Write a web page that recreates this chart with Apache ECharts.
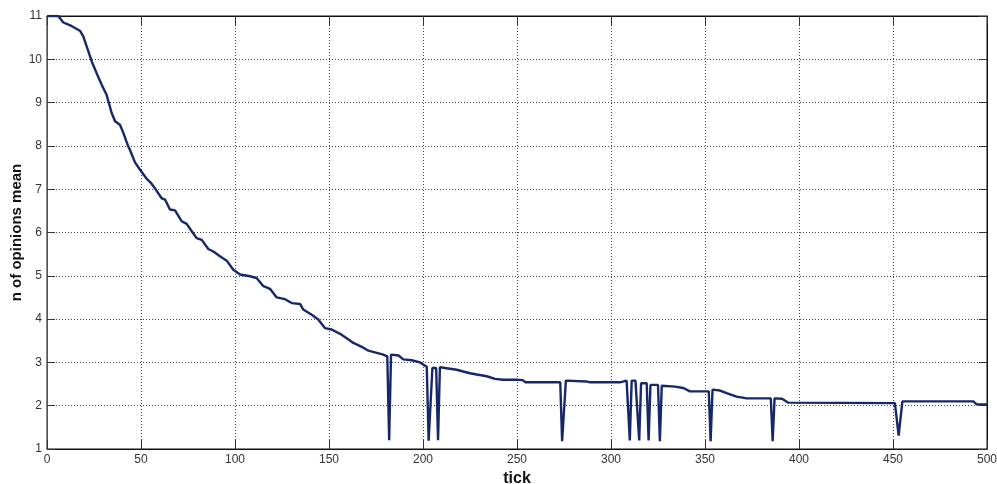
<!DOCTYPE html>
<html>
<head>
<meta charset="utf-8">
<script src="https://cdn.jsdelivr.net/npm/echarts@6/dist/echarts.min.js"></script>
<style>
html,body{margin:0;padding:0;background:#fff;}
#chart{width:997px;height:484px;}
</style>
</head>
<body>
<div id="chart"></div>
<script>
// x positions (tick) of the read points
const ticks = [
  0, 6, 8.7, 13, 17.5, 19.3, 21.1, 23.8, 26.4, 29.1, 31.7, 34.4, 36.2, 38.8, 40.6, 43.2, 44.1, 46.8, 49.5,
  53, 55, 57.4, 61, 62.8, 65.4, 68.1, 71.6, 74.3, 77, 79.6, 82.3, 85.8, 88.5, 92, 95.6, 99.1,
  102.7, 108, 111.5, 115.1, 118.6, 122.2, 126.6, 130.2, 134.6, 136.3, 140.8, 144.3, 147.9,
  151.4, 155.9, 159.4, 163, 167.4, 171, 175.4, 178.9, 181, 182, 183, 187, 189.5, 194, 198.4,
  202, 203, 204, 205, 207, 208, 209, 211.7, 217.9, 221.4, 225, 228.6, 233.9, 238.3, 242.7,
  249.8, 253, 254.5, 273, 274, 275, 276, 287, 288.8, 304.8, 308.3, 309, 310, 311, 313,
  314, 315, 316, 319, 320, 321, 325, 326, 327, 334, 338.5, 342, 352, 353, 354, 358,
  361.5, 366.8, 372.2, 385, 386, 387, 391, 394.3, 451, 452, 453, 454, 455, 492.7, 494.5, 500
];
// n of opinions mean at those ticks
const meanValues = [
  11, 11, 10.85, 10.77, 10.66, 10.53, 10.3, 9.95, 9.68, 9.41, 9.18, 8.76, 8.57, 8.49, 8.30, 7.99, 7.91, 7.62, 7.45,
  7.24, 7.16, 7.02, 6.79, 6.76, 6.53, 6.51, 6.26, 6.20, 6.03, 5.87, 5.83, 5.62, 5.56, 5.45, 5.35, 5.14,
  5.03, 4.99, 4.95, 4.76, 4.70, 4.50, 4.46, 4.37, 4.35, 4.22, 4.10, 3.99, 3.79,
  3.76, 3.66, 3.56, 3.45, 3.36, 3.27, 3.22, 3.18, 3.14, 1.2, 3.18, 3.16, 3.07, 3.05, 3.0,
  2.9, 1.19, 1.19, 2.87, 2.87, 1.2, 2.89, 2.87, 2.83, 2.79, 2.75, 2.72, 2.68, 2.62, 2.60,
  2.60, 2.59, 2.54, 2.54, 1.18, 1.18, 2.58, 2.56, 2.54, 2.54, 2.58, 2.57, 1.2, 2.58, 2.58,
  2.56, 1.2, 2.52, 2.52, 1.2, 2.48, 2.48, 1.18, 2.46, 2.44, 2.41, 2.33, 2.33, 1.18, 2.37, 2.35,
  2.29, 2.21, 2.17, 2.17, 1.18, 2.17, 2.16, 2.07, 2.06, 2.06, 1.31, 1.31, 2.1, 2.1, 2.03, 2.03
];
const xTickLabels = [0, 50, 100, 150, 200, 250, 300, 350, 400, 450, 500];
const yTickLabels = [1, 2, 3, 4, 5, 6, 7, 8, 9, 10, 11];

const points = ticks.map((t, i) => [t, meanValues[i]]);
const chart = echarts.init(document.getElementById('chart'), null, {renderer: 'canvas'});
const labelFont = {fontFamily: 'Liberation Sans', fontSize: 12, color: '#333'};
const dotted = {color: '#444', width: 1, type: [1, 2]};
chart.setOption({
  animation: false,
  backgroundColor: '#fff',
  grid: {left: 47, right: 10, top: 16, bottom: 35, containLabel: false, outerBoundsMode: 'none',
         show: true, borderColor: '#111', borderWidth: 1, backgroundColor: 'transparent'},
  xAxis: [{
    type: 'value', min: 0, max: 500, interval: 50, position: 'bottom',
    name: 'tick', nameLocation: 'middle', nameGap: 22, nameMoveOverlap: false,
    nameTextStyle: {fontFamily: 'Liberation Sans', fontSize: 16, fontWeight: 'bold', color: '#111'},
    axisLine: {show: true, onZero: false, lineStyle: {color: '#111'}},
    axisTick: {show: true, inside: true, length: 9, lineStyle: {color: '#333'}},
    axisLabel: Object.assign({margin: 5, formatter: v => xTickLabels.includes(v) ? String(v) : ''}, labelFont),
    splitLine: {show: true, lineStyle: dotted}
  }, {
    type: 'value', min: 0, max: 500, interval: 50, position: 'top',
    axisLine: {show: true, onZero: false, lineStyle: {color: '#111'}},
    axisTick: {show: true, inside: true, length: 9, lineStyle: {color: '#333'}},
    axisLabel: {show: false}, splitLine: {show: false}
  }],
  yAxis: [{
    type: 'value', min: 1, max: 11, interval: 1, position: 'left',
    name: 'n of opinions mean', nameLocation: 'middle', nameGap: 23, nameMoveOverlap: false,
    nameTextStyle: {fontFamily: 'Liberation Sans', fontSize: 15, fontWeight: 'bold', color: '#111'},
    axisLine: {show: true, onZero: false, lineStyle: {color: '#555'}},
    axisTick: {show: true, inside: true, length: 8, lineStyle: {color: '#333'}},
    axisLabel: Object.assign({margin: 5, formatter: v => yTickLabels.includes(v) ? String(v) : ''}, labelFont),
    splitLine: {show: true, lineStyle: dotted}
  }, {
    type: 'value', min: 1, max: 11, interval: 1, position: 'right',
    axisLine: {show: true, onZero: false, lineStyle: {color: '#111'}},
    axisTick: {show: true, inside: true, length: 8, lineStyle: {color: '#333'}},
    axisLabel: {show: false}, splitLine: {show: false}
  }],
  series: [{
    type: 'line', xAxisIndex: 0, yAxisIndex: 0,
    data: points, showSymbol: false, symbol: 'none',
    lineStyle: {color: '#16286a', width: 2.4},
    clip: true
  }]
});
</script>
</body>
</html>
